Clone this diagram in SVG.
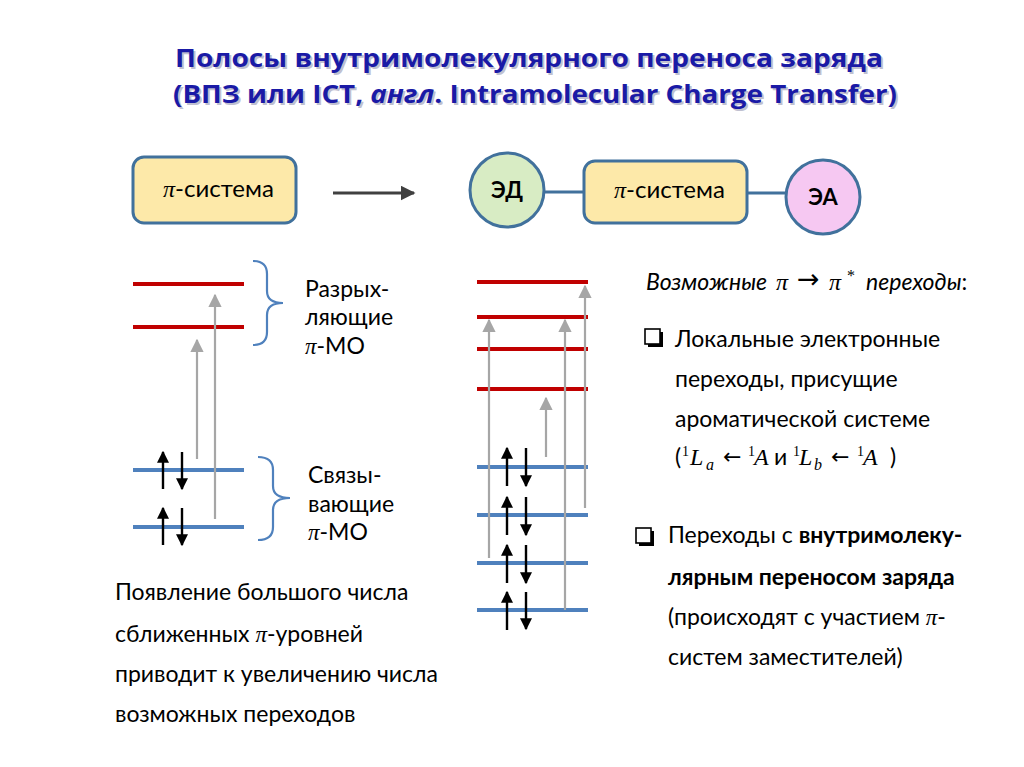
<svg xmlns="http://www.w3.org/2000/svg" width="1024" height="767" viewBox="0 0 1024 767">
<style>
.t{font-family:Lato,"Open Sans","Noto Sans",sans-serif;fill:#000;}
.title{font-family:"Open Sans",Lato,sans-serif;font-weight:bold;font-size:25px;fill:#1a1aa6;}
.shadow{font-family:"Open Sans",Lato,sans-serif;font-weight:bold;font-size:25px;fill:#c0c0d0;}
.m{font-family:"Liberation Serif",serif;font-style:italic;}
.s{font-family:"Liberation Serif",serif;}
.ar{font-family:"DejaVu Sans",sans-serif;}
.box{fill:#fde9a9;stroke:#41719c;stroke-width:3;}
.red{stroke:#c00000;stroke-width:4;}
.blue{stroke:#4f81bd;stroke-width:4;}
.gray{stroke:#a6a6a6;stroke-width:2.2;fill:none;}
.el{stroke:#000;stroke-width:2.4;fill:none;}
.brace{stroke:#4f81bd;stroke-width:2.2;fill:none;}
.body{font-size:23px;}
</style>
<defs>
<marker id="ga" viewBox="0 0 10 10" refX="9" refY="5" markerWidth="6" markerHeight="6" markerUnits="strokeWidth" orient="auto"><path d="M0,0 L10,5 L0,10 z" fill="#a6a6a6"/></marker>
<marker id="ea" viewBox="0 0 10 10" refX="9" refY="5" markerWidth="5" markerHeight="5" markerUnits="strokeWidth" orient="auto"><path d="M0,0 L10,5 L0,10 z" fill="#000"/></marker>
<marker id="da" viewBox="0 0 10 10" refX="9" refY="5" markerWidth="5" markerHeight="5" markerUnits="strokeWidth" orient="auto"><path d="M0,0 L10,5 L0,10 z" fill="#404040"/></marker>
<g id="chk">
<rect x="3" y="3" width="15" height="15" fill="#000"/>
<rect x="0" y="0" width="15" height="15" fill="#fff" stroke="#000" stroke-width="1.6"/>
</g>
</defs>
<rect width="1024" height="767" fill="#fff"/>

<g id="title">
<text class="shadow" x="177" y="69" textLength="708" lengthAdjust="spacingAndGlyphs">Полосы внутримолекулярного переноса заряда</text>
<text class="shadow" x="175" y="105" textLength="724" lengthAdjust="spacingAndGlyphs">(ВПЗ или ICT, <tspan font-style="italic">англ</tspan>. Intramolecular Charge Transfer)</text>
<text class="title" x="175" y="67" textLength="708" lengthAdjust="spacingAndGlyphs">Полосы внутримолекулярного переноса заряда</text>
<text class="title" x="173" y="103" textLength="724" lengthAdjust="spacingAndGlyphs">(ВПЗ или ICT, <tspan font-style="italic">англ</tspan>. Intramolecular Charge Transfer)</text>
</g>

<g id="pi-left">
<rect class="box" x="133" y="157" width="163" height="66" rx="11"/>
<text class="t" x="163" y="197" font-size="24"><tspan class="m">π</tspan>-система</text>
</g>

<g id="connectors">
<line x1="333" y1="193" x2="414" y2="193" stroke="#404040" stroke-width="3" marker-end="url(#da)"/>
<line x1="544" y1="192" x2="584" y2="192" stroke="#41719c" stroke-width="3"/>
<line x1="747" y1="193" x2="786" y2="193" stroke="#41719c" stroke-width="3"/>
</g>

<g id="ed">
<circle cx="507" cy="190" r="37" fill="#d8ecc4" stroke="#41719c" stroke-width="3"/>
<text class="t" x="507" y="198" font-size="22" font-weight="bold" text-anchor="middle">ЭД</text>
</g>
<g id="pi-right">
<rect class="box" x="584" y="161" width="163" height="62" rx="11"/>
<text class="t" x="614" y="198" font-size="24"><tspan class="m">π</tspan>-система</text>
</g>
<g id="ea">
<circle cx="823" cy="197" r="37" fill="#f6c8f2" stroke="#41719c" stroke-width="3"/>
<text class="t" x="823" y="205" font-size="22" font-weight="bold" text-anchor="middle">ЭА</text>
</g>

<g id="left-levels">
<line class="red" x1="133" y1="284" x2="244" y2="284"/>
<line class="red" x1="133" y1="327" x2="244" y2="327"/>
<line class="blue" x1="133" y1="470" x2="244" y2="470"/>
<line class="blue" x1="133" y1="527" x2="244" y2="527"/>
<line class="gray" x1="197" y1="459" x2="197" y2="340" marker-end="url(#ga)"/>
<line class="gray" x1="215" y1="519" x2="215" y2="295" marker-end="url(#ga)"/>
<line class="el" x1="163" y1="489" x2="163" y2="452" marker-end="url(#ea)"/>
<line class="el" x1="182" y1="452" x2="182" y2="489" marker-end="url(#ea)"/>
<line class="el" x1="163" y1="545" x2="163" y2="508" marker-end="url(#ea)"/>
<line class="el" x1="182" y1="508" x2="182" y2="545" marker-end="url(#ea)"/>
<path class="brace" d="M253,261 Q267,261 267,274 L267,291 Q267,303 283,303 Q267,303 267,315 L267,332 Q267,345 253,345"/>
<path class="brace" d="M258,457 Q273,457 273,470 L273,486 Q273,498 290,498 Q273,498 273,510 L273,527 Q273,540 258,540"/>
</g>

<g id="left-labels">
<text class="t body" x="305" y="297">Разрых-</text>
<text class="t body" x="305" y="325">ляющие</text>
<text class="t body" x="305" y="354"><tspan class="m">π</tspan>-МО</text>
<text class="t body" x="308" y="483">Связы-</text>
<text class="t body" x="308" y="512">вающие</text>
<text class="t body" x="308" y="540"><tspan class="m">π</tspan>-МО</text>
</g>

<g id="right-levels">
<line class="red" x1="477" y1="282" x2="588" y2="282"/>
<line class="red" x1="477" y1="317" x2="588" y2="317"/>
<line class="red" x1="477" y1="349" x2="588" y2="349"/>
<line class="red" x1="477" y1="389" x2="588" y2="389"/>
<line class="blue" x1="477" y1="467" x2="588" y2="467"/>
<line class="blue" x1="477" y1="515" x2="588" y2="515"/>
<line class="blue" x1="477" y1="563" x2="588" y2="563"/>
<line class="blue" x1="477" y1="610" x2="588" y2="610"/>
<line class="gray" x1="489" y1="558" x2="489" y2="320" marker-end="url(#ga)"/>
<line class="gray" x1="546" y1="457" x2="546" y2="398" marker-end="url(#ga)"/>
<line class="gray" x1="565" y1="610" x2="565" y2="320" marker-end="url(#ga)"/>
<line class="gray" x1="585" y1="508" x2="585" y2="286" marker-end="url(#ga)"/>
<line class="el" x1="507" y1="486" x2="507" y2="448" marker-end="url(#ea)"/>
<line class="el" x1="526" y1="448" x2="526" y2="486" marker-end="url(#ea)"/>
<line class="el" x1="507" y1="535" x2="507" y2="497" marker-end="url(#ea)"/>
<line class="el" x1="526" y1="497" x2="526" y2="535" marker-end="url(#ea)"/>
<line class="el" x1="507" y1="583" x2="507" y2="545" marker-end="url(#ea)"/>
<line class="el" x1="526" y1="545" x2="526" y2="583" marker-end="url(#ea)"/>
<line class="el" x1="507" y1="630" x2="507" y2="592" marker-end="url(#ea)"/>
<line class="el" x1="526" y1="592" x2="526" y2="629" marker-end="url(#ea)"/>
</g>

<g id="bottom-left-text">
<text class="t body" x="115" y="600">Появление большого числа</text>
<text class="t body" x="115" y="642">сближенных <tspan class="m">π</tspan>-уровней</text>
<text class="t body" x="115" y="682">приводит к увеличению числа</text>
<text class="t body" x="115" y="722">возможных переходов</text>
</g>

<g id="right-text">
<text class="t body" x="646" y="290" font-style="italic">Возможные</text>
<text class="m" x="776" y="290" font-size="24">π</text>
<text class="ar" x="797" y="288" font-size="27">→</text>
<text class="m" x="829" y="290" font-size="24">π</text>
<text class="s" x="847" y="281" font-size="16">*</text>
<text class="t body" x="866" y="290" font-style="italic">переходы<tspan font-style="normal">:</tspan></text>
<use href="#chk" x="645" y="329"/>
<text class="t body" x="675" y="347">Локальные электронные</text>
<text class="t body" x="675" y="387">переходы, присущие</text>
<text class="t body" x="675" y="427">ароматической системе</text>
<g font-size="24">
<text class="t body" x="675" y="465">(</text>
<text class="s" x="682" y="456" font-size="14">1</text>
<text class="m" x="690" y="465">L</text>
<text class="m" x="706" y="470" font-size="16">a</text>
<text class="ar" x="723" y="464" font-size="22">←</text>
<text class="s" x="748" y="456" font-size="14">1</text>
<text class="m" x="754" y="465">A</text>
<text class="t body" x="774" y="465">и</text>
<text class="s" x="793" y="456" font-size="14">1</text>
<text class="m" x="799" y="465">L</text>
<text class="m" x="814" y="470" font-size="16">b</text>
<text class="ar" x="831" y="464" font-size="22">←</text>
<text class="s" x="857" y="456" font-size="14">1</text>
<text class="m" x="863" y="465">A</text>
<text class="t body" x="890" y="465">)</text>
</g>
<use href="#chk" x="636" y="528"/>
<text class="t body" x="668" y="543">Переходы с <tspan font-weight="bold">внутримолеку-</tspan></text>
<text class="t body" x="668" y="585" font-weight="bold">лярным переносом заряда</text>
<text class="t body" x="668" y="625">(происходят с участием <tspan class="m">π</tspan>-</text>
<text class="t body" x="668" y="665">систем заместителей)</text>
</g>
</svg>
